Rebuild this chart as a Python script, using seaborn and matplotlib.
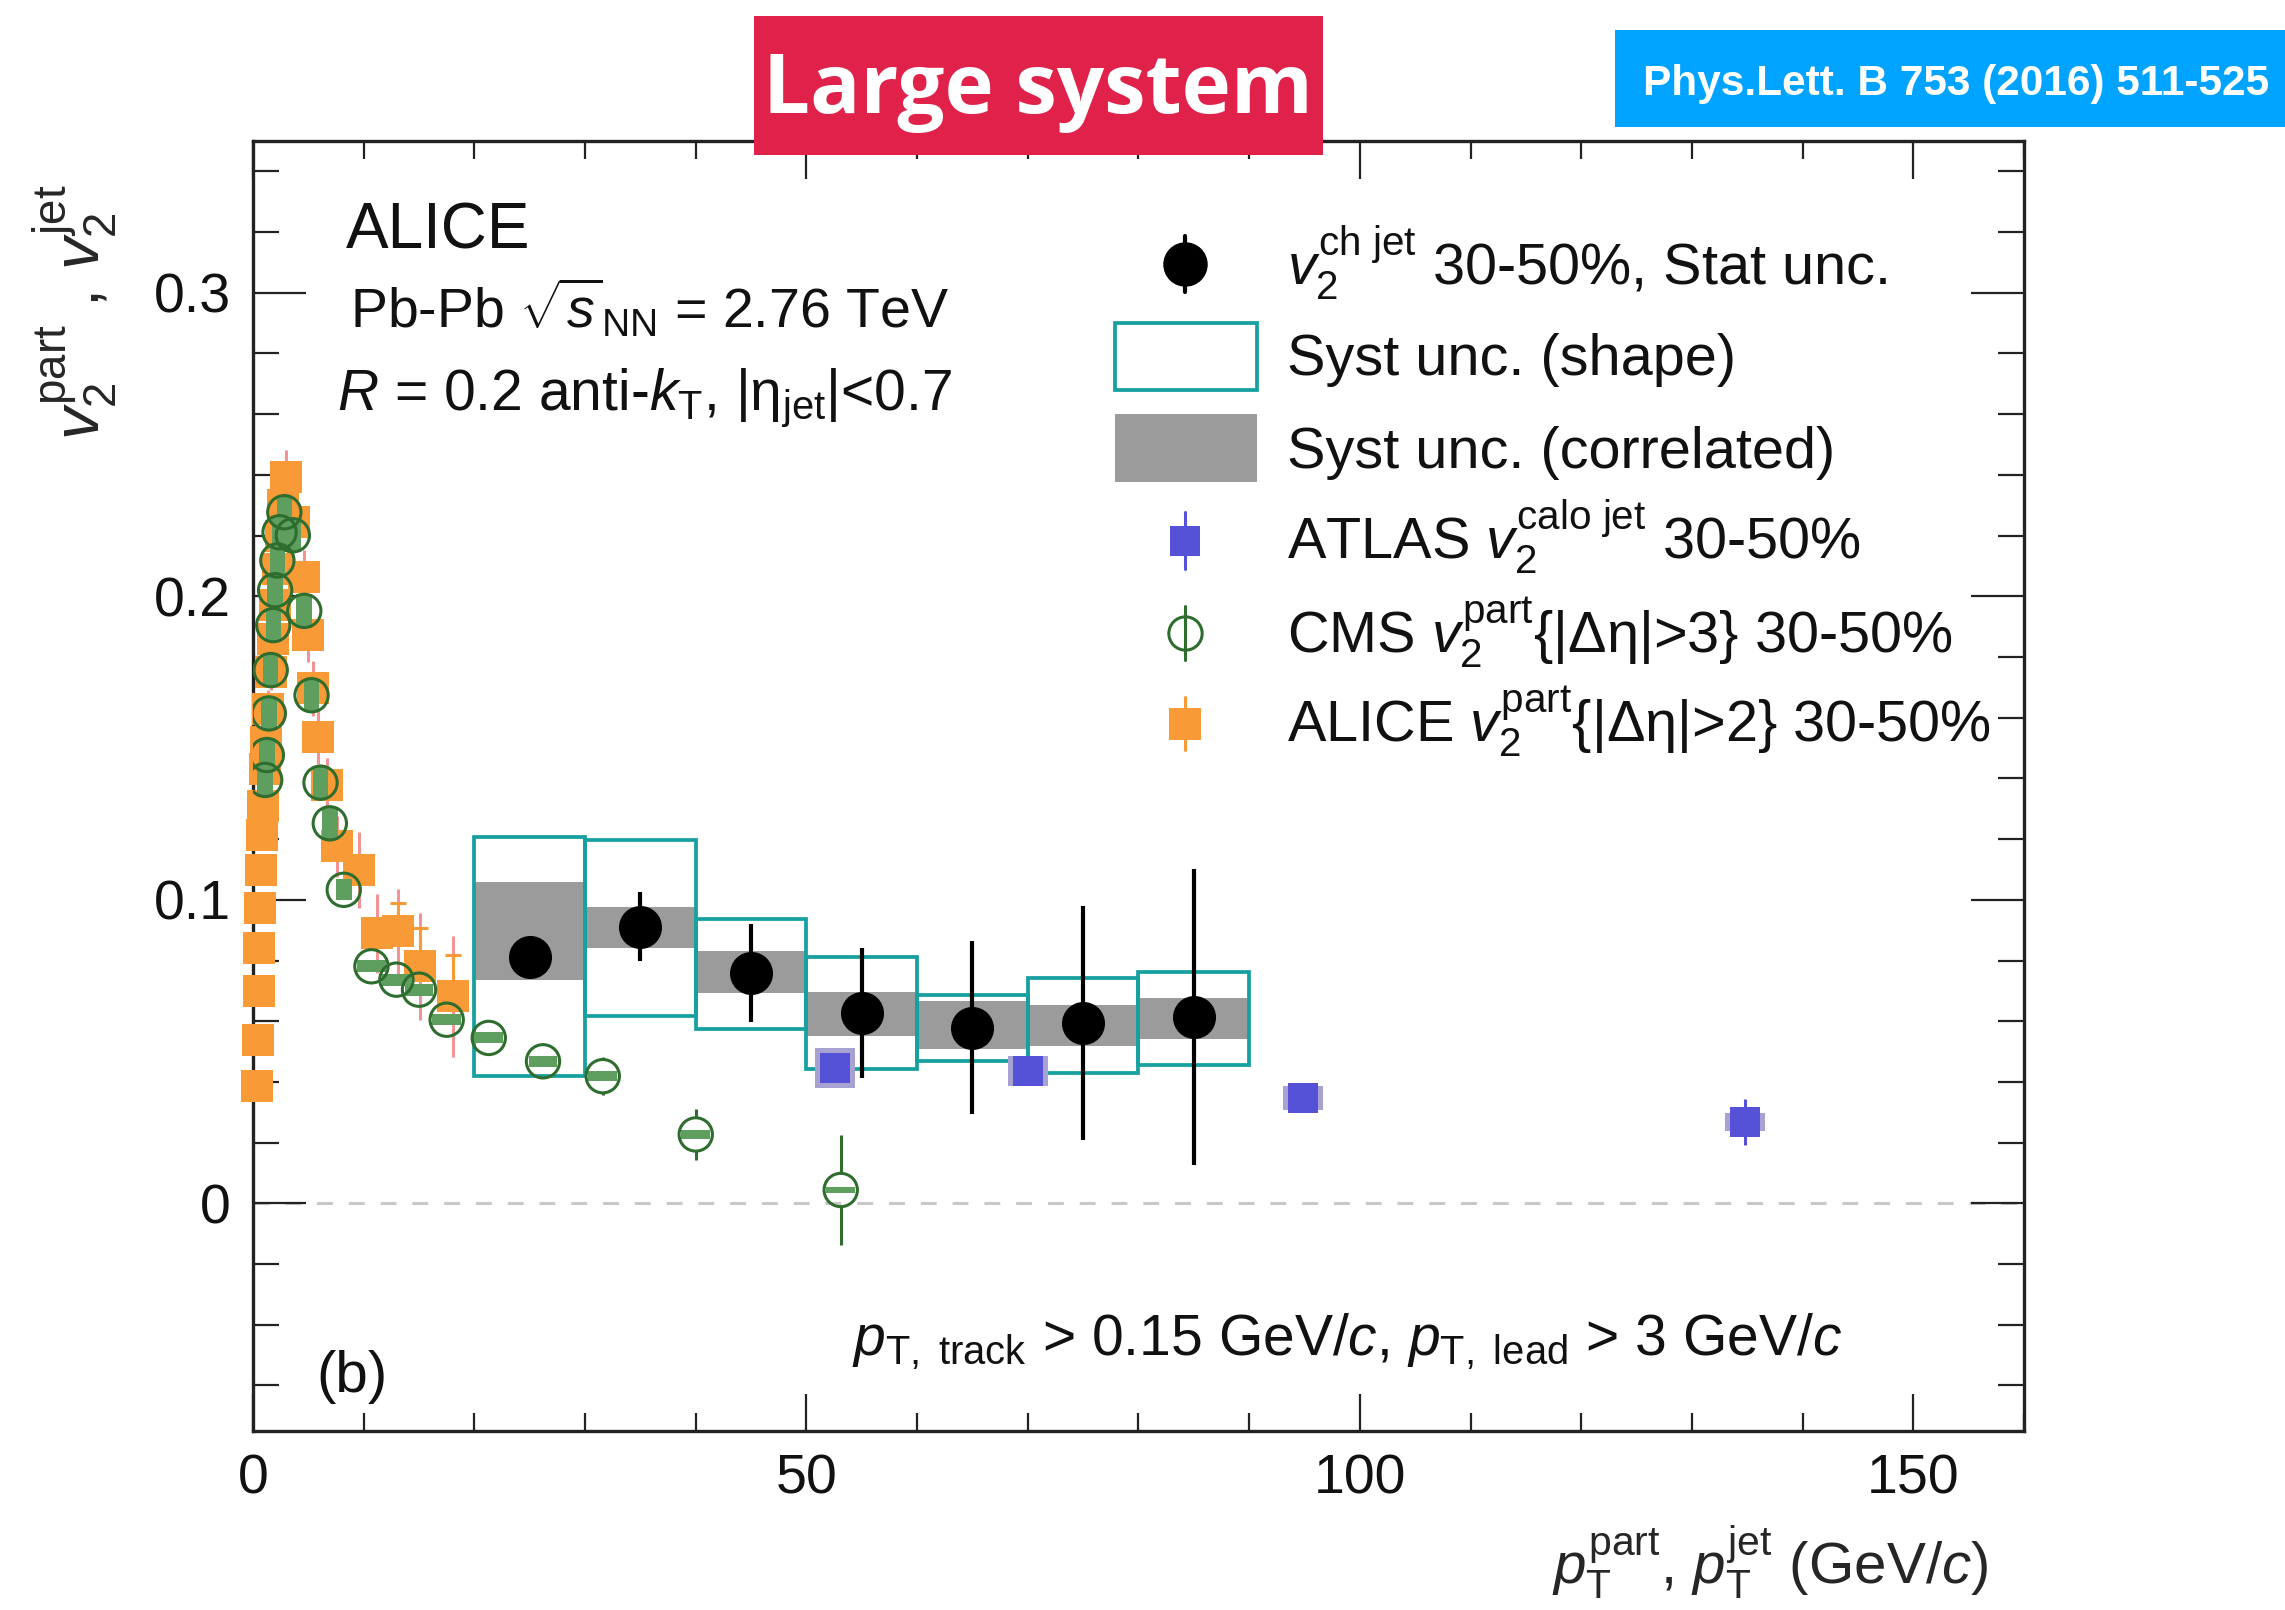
import numpy as np
import pandas as pd
import matplotlib
matplotlib.use("Agg")
import matplotlib.pyplot as plt
from matplotlib.patches import Rectangle
from matplotlib.ticker import MultipleLocator
import seaborn as sns

# ---------------- data ----------------
# ALICE charged-jet v2 (30-50%)
jet_pt = [25, 35, 45, 55, 65, 75, 85]
jet_v2 = [0.0813, 0.0912, 0.0759, 0.0627, 0.0578, 0.0594, 0.0614]
jet_stat = [0.004, 0.0115, 0.0162, 0.0214, 0.0285, 0.0386, 0.0488]
jet_corr_lo = [0.0737, 0.0841, 0.0693, 0.0553, 0.0507, 0.0518, 0.0542]
jet_corr_hi = [0.1060, 0.0976, 0.0830, 0.0695, 0.0666, 0.0655, 0.0677]
jet_shape_lo = [0.0419, 0.0618, 0.0575, 0.0441, 0.0468, 0.0430, 0.0457]
jet_shape_hi = [0.1208, 0.1197, 0.0937, 0.0813, 0.0688, 0.0742, 0.0761]

# ATLAS calo-jet v2
atlas_pt = [52.6, 70.0, 94.9, 134.8]
atlas_v2 = [0.0446, 0.0436, 0.0348, 0.0268]
atlas_stat = [0.004, 0.004, 0.004, 0.0077]
atlas_syst = [0.0067, 0.0050, 0.0040, 0.0030]

# CMS v2{|Δη|>3}
cms_pt = [1.1, 1.25, 1.43, 1.6, 1.83, 2.0, 2.2, 2.4, 2.83, 3.6, 4.63, 5.29,
          6.1, 6.94, 8.2, 10.7, 12.96, 15.0, 17.5, 21.3, 26.2, 31.6, 40.0, 53.1]
cms_v2 = [0.1395, 0.1477, 0.1614, 0.1757, 0.1905, 0.2020, 0.2118, 0.2211,
          0.2277, 0.2201, 0.1952, 0.1674, 0.1386, 0.1252, 0.1033, 0.0781,
          0.0737, 0.0704, 0.0605, 0.0545, 0.0468, 0.0419, 0.0227, 0.0044]
cms_stat = [0.001, 0.001, 0.001, 0.001, 0.001, 0.001, 0.001, 0.001,
            0.001, 0.001, 0.001, 0.001, 0.001, 0.001, 0.002, 0.002,
            0.002, 0.002, 0.002, 0.003, 0.004, 0.0063, 0.0085, 0.018]
cms_syst = [0.0055, 0.0055, 0.0055, 0.0055, 0.0055, 0.0055, 0.0055, 0.0055,
            0.0055, 0.0055, 0.0055, 0.0055, 0.0055, 0.0055, 0.0035, 0.0020,
            0.0020, 0.0020, 0.0018, 0.0018, 0.0018, 0.0016, 0.0016, 0.0010]
cms_syst_dx = [0.7, 0.7, 0.7, 0.7, 0.7, 0.7, 0.7, 0.7,
               0.7, 0.7, 0.7, 0.7, 0.7, 0.7, 0.7, 1.3,
               1.3, 1.3, 1.3, 1.3, 1.3, 1.3, 1.3, 1.3]

# ALICE charged-particle v2{|Δη|>2}
alice_pt = [0.35, 0.42, 0.5, 0.57, 0.65, 0.72, 0.8, 0.9, 1.05, 1.2, 1.4,
            1.6, 1.8, 2.0, 2.25, 2.5, 2.75, 3.0, 3.7, 4.6, 5.0, 5.4, 5.9,
            6.7, 7.6, 9.6, 11.2, 13.1, 15.1, 18.1]
alice_v2 = [0.0386, 0.0539, 0.0698, 0.0841, 0.0973, 0.1099, 0.1214, 0.1310,
            0.1430, 0.1520, 0.1630, 0.1750, 0.1860, 0.1970, 0.2090, 0.2200,
            0.2300, 0.2393, 0.2245, 0.2064, 0.1872, 0.1697, 0.1537, 0.1378,
            0.1176, 0.1099, 0.0890, 0.0896, 0.0781, 0.0682]
alice_stat = [0.001] * 25 + [0.002, 0.004, 0.0094, 0.0127, 0.0137]
alice_syst = [0.003] * 8 + [0.006] * 9 + [0.009] * 7 + [0.010, 0.0125,
                                                         0.013, 0.014, 0.0176, 0.020]

# ---------------- colours ----------------
C_TEAL = "#16a0a0"
C_GRAY = "#9b9b9b"
C_BLUE = "#5652d8"
C_BLUE_SYS = "#a7a2d2"
C_GREEN = "#2f6d2f"
C_GREEN_FILL = "#5e9e5e"
C_ORANGE = "#f89a36"
C_PINK = "#f39494"

# ---------------- style ----------------
sns.set_theme(style="ticks")
plt.rcParams["font.family"] = ["Liberation Sans", "DejaVu Sans"]
plt.rcParams["mathtext.fontset"] = "custom"
plt.rcParams["mathtext.rm"] = "Liberation Sans"
plt.rcParams["mathtext.it"] = "Liberation Sans:italic"
plt.rcParams["mathtext.bf"] = "Liberation Sans:bold"
plt.rcParams["axes.linewidth"] = 2.4
plt.rcParams["axes.edgecolor"] = "#222222"

fig = plt.figure(figsize=(22.85, 16.10), dpi=100)
ax = fig.add_axes([0.11072, 0.11118, 0.77505, 0.80124])

# zero line
ax.axhline(0, color="#c8c8c8", lw=2.2, ls=(0, (5.2, 5.2)), zorder=0.5)

# ALICE jet: correlated syst (gray) and shape syst (teal boxes)
jet_w = 10
ax.bar(jet_pt, np.array(jet_corr_hi) - np.array(jet_corr_lo), bottom=jet_corr_lo,
       width=jet_w, color=C_GRAY, linewidth=0, zorder=1)
ax.bar(jet_pt, np.array(jet_shape_hi) - np.array(jet_shape_lo), bottom=jet_shape_lo,
       width=jet_w, fill=False, edgecolor=C_TEAL, linewidth=2.7, zorder=2)

# ALICE particle v2 (orange squares)
ax.errorbar(alice_pt, alice_v2, yerr=alice_syst, fmt="none", ecolor=C_PINK,
            elinewidth=2.2, zorder=2.6)
ax.errorbar(alice_pt, alice_v2, yerr=[np.zeros(len(alice_stat)), alice_stat],
            fmt="none", ecolor=C_ORANGE, elinewidth=2.2, capsize=6, capthick=2.2,
            zorder=2.7)
sns.scatterplot(x=alice_pt, y=alice_v2, ax=ax, marker="s", s=23 ** 2,
                color=C_ORANGE, linewidth=0, zorder=3, clip_on=False, legend=False)

# CMS (open circles with green syst boxes); stat bars drawn outside the marker
cms_x = np.array(cms_pt)
cms_y = np.array(cms_v2)
cms_e = np.array(cms_stat)
cms_sys = np.array(cms_syst)
ax.bar(cms_x, 2 * cms_sys, bottom=cms_y - cms_sys, width=2 * np.array(cms_syst_dx),
       color=C_GREEN_FILL, linewidth=0, zorder=3.5)
r_mark = 0.0054
sel = cms_e > r_mark
ax.vlines(cms_x[sel], cms_y[sel] + r_mark, cms_y[sel] + cms_e[sel], color=C_GREEN,
          lw=2.2, zorder=3.6)
ax.vlines(cms_x[sel], cms_y[sel] - cms_e[sel], cms_y[sel] - r_mark, color=C_GREEN,
          lw=2.2, zorder=3.6)
sns.scatterplot(x=cms_pt, y=cms_v2, ax=ax, marker="o", s=24 ** 2,
                facecolor="none", edgecolor=C_GREEN, linewidth=2.2, zorder=4,
                legend=False)

# ATLAS
ax.bar(atlas_pt, 2 * np.array(atlas_syst), bottom=np.array(atlas_v2) - np.array(atlas_syst),
       width=3.6, color=C_BLUE_SYS, linewidth=0, zorder=4.5)
ax.errorbar(atlas_pt, atlas_v2, yerr=atlas_stat, fmt="none", ecolor=C_BLUE,
            elinewidth=2.2, zorder=4.6)
sns.scatterplot(x=atlas_pt, y=atlas_v2, ax=ax, marker="s", s=22 ** 2,
                color=C_BLUE, linewidth=0, zorder=5, legend=False)

# ALICE jets (black)
ax.errorbar(jet_pt, jet_v2, yerr=jet_stat, fmt="none", ecolor="black",
            elinewidth=3.0, zorder=5.5)
sns.scatterplot(x=jet_pt, y=jet_v2, ax=ax, marker="o", s=31 ** 2,
                color="black", linewidth=0, zorder=6, legend=False)

# ---------------- axes ----------------
ax.set_xlim(0, 160)
ax.set_ylim(-0.075, 0.35)
ax.set_xticks([0, 50, 100, 150])
ax.set_xticklabels(["0", "50", "100", "150"])
ax.set_yticks([0, 0.1, 0.2, 0.3])
ax.set_yticklabels(["0", "0.1", "0.2", "0.3"])
ax.xaxis.set_minor_locator(MultipleLocator(10))
ax.yaxis.set_minor_locator(MultipleLocator(0.02))
ax.tick_params(which="both", direction="in", top=True, right=True,
               color="#222222", width=1.6, labelsize=40, labelcolor="#111111")
ax.tick_params(axis="x", which="major", length=27, pad=16)
ax.tick_params(axis="x", which="minor", length=13)
ax.tick_params(axis="y", which="major", length=38, pad=16)
ax.tick_params(axis="y", which="minor", length=19)
ax.grid(False)

ax.set_xlabel(r"$p_{\mathrm{T}}^{\mathrm{part}}$, $p_{\mathrm{T}}^{\mathrm{jet}}$ (GeV/$c$)",
              fontsize=42, loc="right")
ax.xaxis.set_label_coords(0.9797, -0.0715)
ax.set_ylabel(r"$v_{2}^{\mathrm{part}}$ , $v_{2}^{\mathrm{jet}}$", fontsize=47, loc="top")
ax.yaxis.set_label_coords(-0.0751, 0.966)

# ---------------- annotations ----------------
ax.text(0.0524, 0.9168, "ALICE", transform=ax.transAxes, fontsize=46,
        ha="left", va="baseline", color="#111111")
ax.text(0.0548, 0.8548, r"Pb-Pb $\sqrt{s}_{\mathrm{NN}}$ = 2.76 TeV", transform=ax.transAxes,
        fontsize=40, ha="left", va="baseline", color="#111111")
ax.text(0.0472, 0.7915, r"$R$ = 0.2 anti-$k_{\mathrm{T}}$, $|\mathrm{\eta}_{\mathrm{jet}}|$<0.7",
        transform=ax.transAxes, fontsize=41, ha="left", va="baseline", color="#111111")
ax.text(0.0356, 0.0302, "(b)", transform=ax.transAxes, fontsize=42,
        ha="left", va="baseline", color="#111111")
ax.text(0.3382, 0.0589,
        r"$p_{\mathrm{T,\ track}}$ > 0.15 GeV/$c$, $p_{\mathrm{T,\ lead}}$ > 3 GeV/$c$",
        transform=ax.transAxes, fontsize=41, ha="left", va="baseline", color="#111111")

# ---------------- legend (drawn by hand) ----------------
tr = ax.transAxes
mx = 0.5263
tx = 0.5838
leg_fs = 41.5
labels = [r"$v_{2}^{\mathrm{ch\ jet}}$ 30-50%, Stat unc.",
          "Syst unc. (shape)",
          "Syst unc. (correlated)",
          r"ATLAS $v_{2}^{\mathrm{calo\ jet}}$ 30-50%",
          r"CMS $v_{2}^{\mathrm{part}}${|Δη|>3} 30-50%",
          r"ALICE $v_{2}^{\mathrm{part}}${|Δη|>2} 30-50%"]
baselines = [0.8891, 0.8186, 0.7469, 0.6764, 0.6031, 0.5341]
for lab, yb in zip(labels, baselines):
    ax.text(tx, yb, lab, transform=tr, fontsize=leg_fs, ha="left", va="baseline",
            color="#111111")
# black point
ax.plot([mx, mx], [0.9047 - 0.0217, 0.9047 + 0.0217], color="black", lw=3, transform=tr,
        clip_on=False, zorder=7)
ax.plot([mx], [0.9047], marker="o", ms=31, color="black", transform=tr, clip_on=False,
        zorder=7)
# teal rect
ax.add_patch(Rectangle((0.4867, 0.8070), 0.0802, 0.0519, transform=tr, fill=False,
                       edgecolor=C_TEAL, lw=2.7, clip_on=False, zorder=7))
# gray rect
ax.add_patch(Rectangle((0.4867, 0.7357), 0.0802, 0.0527, transform=tr, facecolor=C_GRAY,
                       lw=0, clip_on=False, zorder=7))
# ATLAS
ax.plot([mx, mx], [0.6682, 0.7124], color=C_BLUE, lw=2.2, transform=tr, clip_on=False, zorder=7)
ax.plot([mx], [0.6903], marker="s", ms=22, color=C_BLUE, mew=0, transform=tr,
        clip_on=False, zorder=7)
# CMS
ax.plot([mx, mx], [0.5977, 0.6395], color=C_GREEN, lw=2.2, transform=tr, clip_on=False, zorder=7)
ax.plot([mx], [0.6186], marker="o", ms=24, mfc="none", mec=C_GREEN, mew=2.2, transform=tr,
        clip_on=False, zorder=7)
# ALICE particle
ax.plot([mx, mx], [0.5279, 0.5690], color=C_ORANGE, lw=2.2, transform=tr, clip_on=False, zorder=7)
ax.plot([mx], [0.5477], marker="s", ms=23, color=C_ORANGE, mew=0, transform=tr,
        clip_on=False, zorder=7)

# ---------------- header boxes ----------------
fig.add_artist(Rectangle((0.3300, 0.9037), 0.2490, 0.0863, transform=fig.transFigure,
                         facecolor="#e0224b", edgecolor="none", zorder=10))
fig.text(0.4543, 0.9298, "Large system", fontsize=60, fontweight="bold",
         family=["Open Sans", "DejaVu Sans"], color="white", ha="center", va="baseline",
         zorder=11)
fig.add_artist(Rectangle((0.7068, 0.9211), 0.2932, 0.0602, transform=fig.transFigure,
                         facecolor="#00a3ff", edgecolor="none", zorder=10))
fig.text(0.8562, 0.9410, "Phys.Lett. B 753 (2016) 511-525", fontsize=30.5,
         fontweight="bold", color="white", ha="center", va="baseline", zorder=11)

fig.savefig("out.png", dpi=100)
